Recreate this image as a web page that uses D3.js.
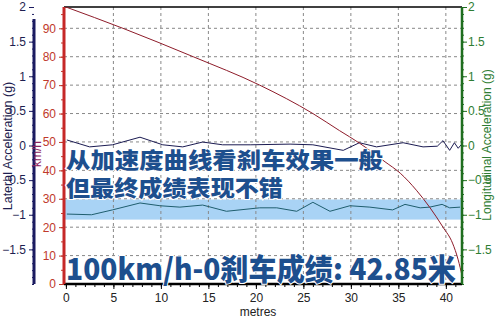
<!DOCTYPE html>
<html>
<head>
<meta charset="utf-8">
<script src="https://cdn.jsdelivr.net/npm/d3@7"></script>
<style>
  body { margin: 0; background: #fff; }
  svg { display: block; font-family: "Liberation Sans", Arial, sans-serif; }
  .grid line { stroke: #888; stroke-dasharray: 3,3; stroke-width: 1; }
  .cn { font-family: "Noto Sans CJK SC", sans-serif; font-weight: 900; fill: #1d4f8e;
        stroke: #fff; stroke-width: 2px; paint-order: stroke; }
</style>
</head>
<body>
<svg id="chart" width="500" height="320"></svg>
<script>
// speed vs distance (km/h)
const speedDist = [0, 6, 13.4, 20.4, 26, 28.8, 30.9, 33.6, 35.2, 36.9, 38.3, 39.7, 40.7, 41.3, 41.7];
const speedVal = [97.5, 90, 80, 70, 60, 54, 49.6, 43, 39, 33, 27, 20, 14.4, 8.5, 3];

// lateral acceleration (g)
const latDist = [0.1, 2.5, 4.9, 7.8, 10.2, 12.3, 14.4, 16.5, 19.4, 23.6, 26, 29.2, 30.9, 32.7, 35.5, 37.6, 39.1, 39.7, 40.4, 40.9, 41.3, 41.8];
const latVal = [0.08, -0.02, 0.01, 0.12, 0.01, -0.02, 0.05, 0.01, 0.01, 0.02, 0.01, -0.07, 0.04, -0.02, 0.04, -0.02, -0.01, 0.07, -0.07, 0.04, -0.04, 0.04];

// longitudinal acceleration (g)
const lonDist = [0.1, 2.7, 4.9, 7.8, 9.9, 12, 14.4, 16.9, 20.4, 22.2, 24.3, 26, 27.8, 29.9, 32, 34.4, 35.7, 37.3, 38.3, 39.6, 40.4, 41.5];
const lonVal = [-0.99, -1.0, -0.93, -0.83, -0.87, -0.89, -0.86, -0.95, -0.9, -0.9, -0.95, -0.82, -0.95, -0.87, -0.89, -0.93, -0.85, -0.9, -0.89, -0.85, -0.9, -0.89];

const band = [-0.78, -1.07];

const xTicks = [0, 5, 10, 15, 20, 25, 30, 35, 40];
const speedTicks = [0, 10, 20, 30, 40, 50, 60, 70, 80, 90];
const gTicks = [-1.5, -1, -0.5, 0, 0.5, 1, 1.5, 2];

const svg = d3.select("#chart");
const pLeft = 64, pRight = 462, pTop = 7, pBottom = 284;

const x = d3.scaleLinear().domain([-0.2, 41.7]).range([pLeft, pRight]);
const ySpeed = d3.scaleLinear().domain([0, 97.5]).range([pBottom, pTop]);
const yLat = d3.scaleLinear().domain([-2, 2]).range([pBottom, pTop]);
const yLon = d3.scaleLinear().domain([-2, 2]).range([pBottom, pTop]);

// band
svg.append("rect")
  .attr("x", pLeft).attr("width", pRight - pLeft)
  .attr("y", yLon(band[0])).attr("height", yLon(band[1]) - yLon(band[0]))
  .attr("fill", "#a9d3f5");

// grid
const grid = svg.append("g").attr("class", "grid");
grid.selectAll(".v").data(xTicks.filter(d => d > 0)).enter().append("line")
  .attr("x1", d => x(d)).attr("x2", d => x(d)).attr("y1", pTop).attr("y2", pBottom);
grid.selectAll(".h").data(speedTicks.filter(d => d > 0)).enter().append("line")
  .attr("x1", pLeft).attr("x2", pRight).attr("y1", d => ySpeed(d)).attr("y2", d => ySpeed(d));

// top border
svg.append("line").attr("x1", pLeft).attr("x2", pRight).attr("y1", pTop).attr("y2", pTop)
  .attr("stroke", "#000").attr("stroke-width", 1.5);

// lines
const zip = (a, b) => a.map((d, i) => [d, b[i]]);
svg.append("path").datum(zip(latDist, latVal))
  .attr("fill", "none").attr("stroke", "#1b1b52").attr("stroke-width", 1)
  .attr("d", d3.line().x(d => x(d[0])).y(d => yLat(d[1])));
svg.append("path").datum(zip(lonDist, lonVal))
  .attr("fill", "none").attr("stroke", "#1f5e6e").attr("stroke-width", 1)
  .attr("d", d3.line().x(d => x(d[0])).y(d => yLon(d[1])));
svg.append("path").datum(zip(speedDist, speedVal))
  .attr("fill", "none").attr("stroke", "#8e1c2a").attr("stroke-width", 1)
  .attr("d", d3.line().curve(d3.curveMonotoneX).x(d => x(d[0])).y(d => ySpeed(d[1])));

// x axis
const xAxis = svg.append("g").attr("transform", `translate(0,${pBottom})`);
xAxis.call(d3.axisBottom(x).tickValues(d3.range(0, 42, 1)).tickSize(3).tickFormat(""))
  .call(g => g.select(".domain").remove());
xAxis.append("g").call(d3.axisBottom(x).tickValues(xTicks).tickSize(5))
  .call(g => g.select(".domain").remove())
  .call(g => g.selectAll("text").attr("font-size", 12).attr("fill", "#222").attr("dy", "0.85em"));
svg.append("line").attr("x1", pLeft).attr("x2", pRight).attr("y1", pBottom).attr("y2", pBottom)
  .attr("stroke", "#000").attr("stroke-width", 2.5);
svg.append("text").attr("x", 258).attr("y", 316).attr("text-anchor", "middle")
  .attr("font-size", 12).attr("fill", "#222").text("metres");

// lateral axis (left, navy)
const latAxis = svg.append("g").attr("transform", "translate(34,0)");
latAxis.call(d3.axisLeft(yLat).tickValues(d3.range(-20, 21).map(d => d / 10)).tickSize(2).tickFormat(""))
  .call(g => g.select(".domain").remove())
  .call(g => g.selectAll("line").attr("stroke", "#1b1b60"));
latAxis.append("g").call(d3.axisLeft(yLat).tickValues(gTicks).tickSize(5).tickFormat(d3.format("")))
  .call(g => g.select(".domain").remove())
  .call(g => g.selectAll("line").attr("stroke", "#1b1b60"))
  .call(g => g.selectAll("text").attr("font-size", 12).attr("fill", "#1e1e50"));
svg.append("line").attr("x1", 34).attr("x2", 34).attr("y1", pTop + 12).attr("y2", pBottom)
  .attr("stroke", "#1b1b60").attr("stroke-width", 3);
svg.append("text").attr("transform", "translate(12,146) rotate(-90)").attr("text-anchor", "middle")
  .attr("font-size", 12.5).attr("fill", "#1e1e50").text("Lateral Acceleration (g)");

// speed axis (left, red)
const spAxis = svg.append("g").attr("transform", `translate(${pLeft},0)`);
spAxis.call(d3.axisLeft(ySpeed).tickValues(d3.range(0, 100, 5)).tickSize(3).tickFormat(""))
  .call(g => g.select(".domain").remove())
  .call(g => g.selectAll("line").attr("stroke", "#c0392b"));
spAxis.append("g").call(d3.axisLeft(ySpeed).tickValues(speedTicks).tickSize(5))
  .call(g => g.select(".domain").remove())
  .call(g => g.selectAll("line").attr("stroke", "#c0392b"))
  .call(g => g.selectAll("text").attr("font-size", 12).attr("fill", "#c0392b"));
svg.append("line").attr("x1", pLeft).attr("x2", pLeft).attr("y1", pTop).attr("y2", pBottom)
  .attr("stroke", "#c62828").attr("stroke-width", 3);
svg.append("text").attr("transform", "translate(41,154) rotate(-90)").attr("text-anchor", "middle")
  .attr("font-size", 12).attr("fill", "#8e2460").text("km/h");

// longitudinal axis (right, green)
const lonAxis = svg.append("g").attr("transform", `translate(${pRight},0)`);
lonAxis.call(d3.axisRight(yLon).tickValues(d3.range(-20, 21).map(d => d / 10)).tickSize(2).tickFormat(""))
  .call(g => g.select(".domain").remove())
  .call(g => g.selectAll("line").attr("stroke", "#1f6e1f"));
lonAxis.append("g").call(d3.axisRight(yLon).tickValues(gTicks).tickSize(5).tickFormat(d3.format("")))
  .call(g => g.select(".domain").remove())
  .call(g => g.selectAll("line").attr("stroke", "#1f6e1f"))
  .call(g => g.selectAll("text").attr("font-size", 12).attr("fill", "#2e7d32").attr("x", 6));
svg.append("text").attr("x", 0).attr("y", 0)
  .attr("transform", "translate(491,145) rotate(-90)").attr("text-anchor", "middle")
  .attr("font-size", 12).attr("fill", "#2e7d32").text("Longitudinal Acceleration (g)");
svg.append("line").attr("x1", pRight).attr("x2", pRight).attr("y1", pTop).attr("y2", pBottom)
  .attr("stroke", "#1f6e1f").attr("stroke-width", 2.5);

// overlay captions
svg.append("text").attr("class", "cn").attr("x", 66).attr("y", 168)
  .attr("font-size", 22).attr("textLength", 317).attr("lengthAdjust", "spacingAndGlyphs")
  .text("从加速度曲线看刹车效果一般");
svg.append("text").attr("class", "cn").attr("x", 66).attr("y", 196)
  .attr("font-size", 22).attr("textLength", 217).attr("lengthAdjust", "spacingAndGlyphs")
  .text("但最终成绩表现不错");
svg.append("text").attr("class", "cn").attr("x", 66).attr("y", 280)
  .attr("font-size", 30).attr("textLength", 390).attr("lengthAdjust", "spacingAndGlyphs")
  .text("100km/h-0刹车成绩: 42.85米");
</script>
</body>
</html>
